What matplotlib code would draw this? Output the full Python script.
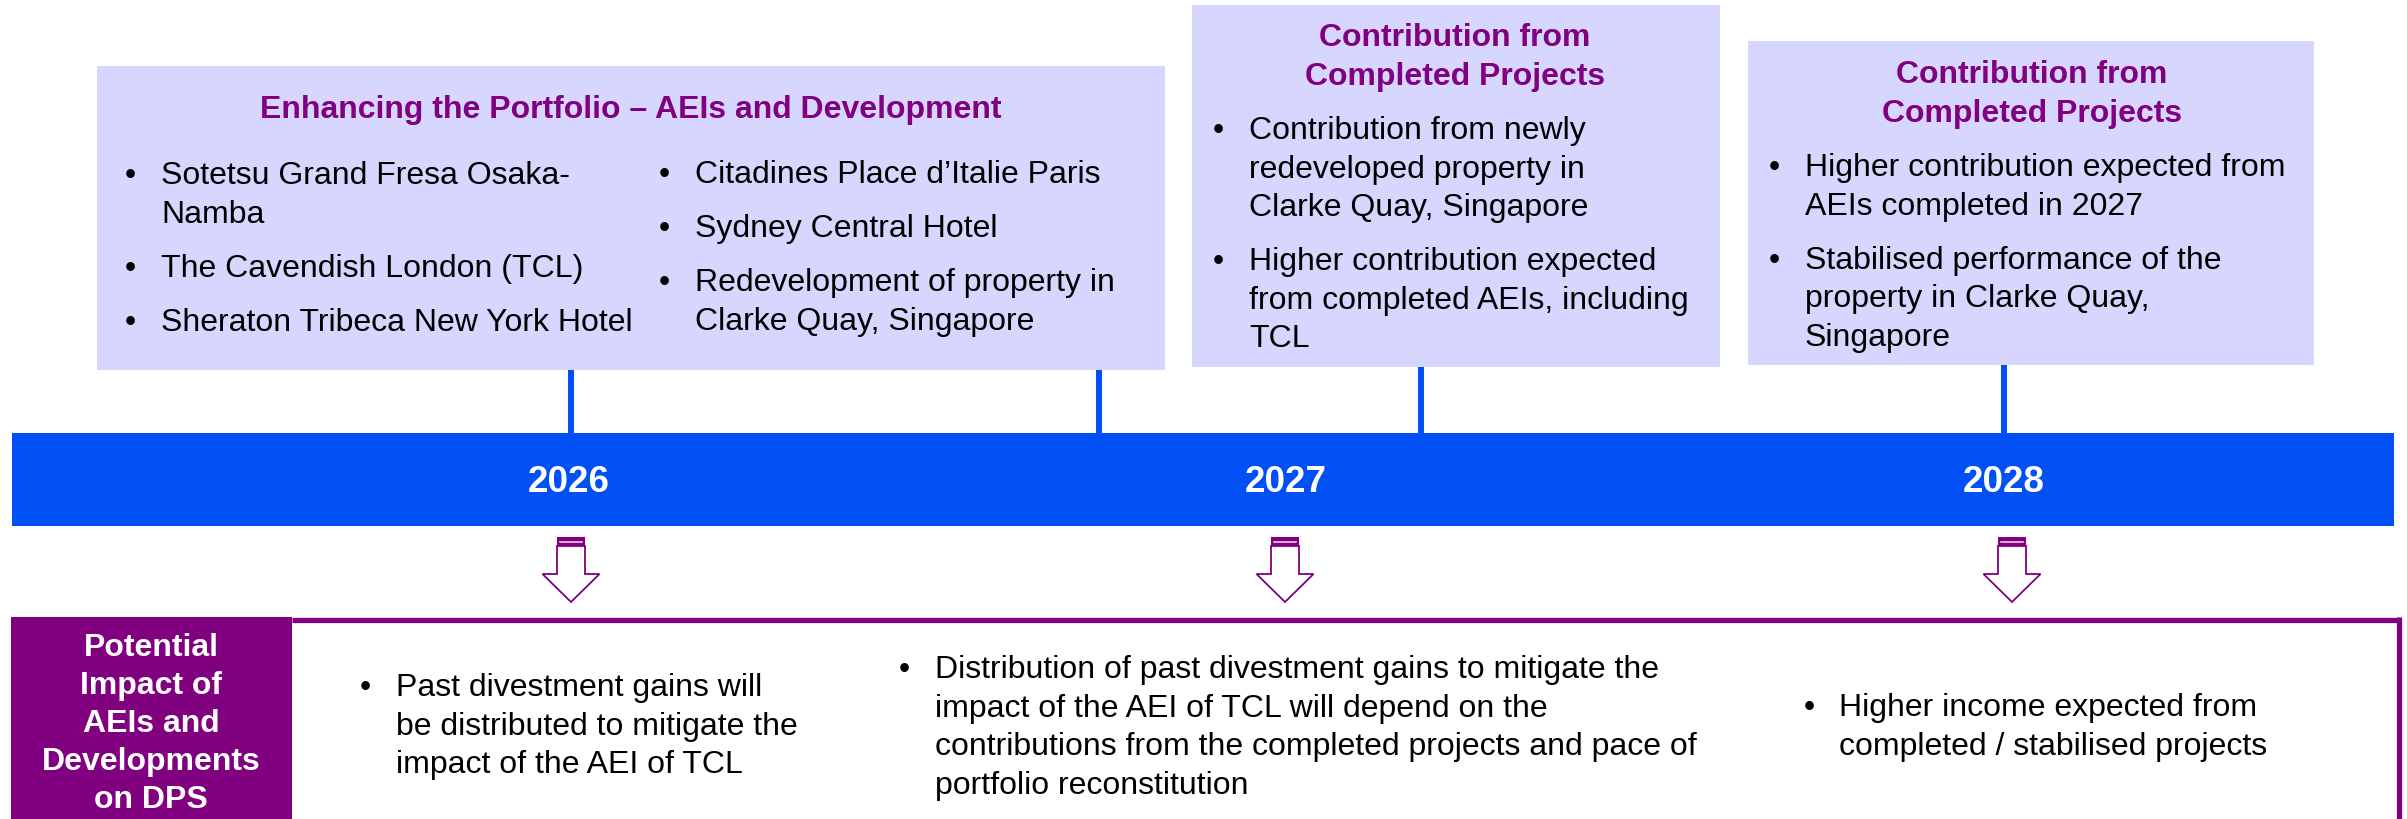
import matplotlib
matplotlib.use("Agg")
import matplotlib.pyplot as plt
from matplotlib.patches import Rectangle, Polygon

plt.rcParams['font.family'] = ['Liberation Sans', 'DejaVu Sans']

# texts
box1_title = ["Enhancing the Portfolio – AEIs and Development"]
box1_col1 = [["Sotetsu Grand Fresa Osaka-", "Namba"],
             ["The Cavendish London (TCL)"],
             ["Sheraton Tribeca New York Hotel"]]
box1_col2 = [["Citadines Place d’Italie Paris"],
             ["Sydney Central Hotel"],
             ["Redevelopment of property in", "Clarke Quay, Singapore"]]
box2_title = ["Contribution from", "Completed Projects"]
box2_items = [["Contribution from newly", "redeveloped property in", "Clarke Quay, Singapore"],
              ["Higher contribution expected", "from completed AEIs, including", "TCL"]]
box3_title = ["Contribution from", "Completed Projects"]
box3_items = [["Higher contribution expected from", "AEIs completed in 2027"],
              ["Stabilised performance of the", "property in Clarke Quay,", "Singapore"]]
years = ["2026", "2027", "2028"]
impact_label = ["Potential", "Impact of", "AEIs and", "Developments", "on DPS"]
impact_items = [[["Past divestment gains will", "be distributed to mitigate the",
                  "impact of the AEI of TCL"]],
                [["Distribution of past divestment gains to mitigate the",
                  "impact of the AEI of TCL will depend on the",
                  "contributions from the completed projects and pace of",
                  "portfolio reconstitution"]],
                [["Higher income expected from", "completed / stabilised projects"]]]

# colours / layout (pixel space, y down)
LAV = "#D6D6FF"
BLUE = "#0050F5"
PURPLE = "#800080"
W, H = 2407, 819
FS = 23
STEP = 38.5
PARA = 54
CAP = 11.4  # half cap height, px

fig = plt.figure(figsize=(W / 100, H / 100), dpi=100)
ax = fig.add_axes([0, 0, 1, 1])
ax.set_xlim(0, W)
ax.set_ylim(H, 0)
ax.axis("off")


def bullets(items, xb, xt, y0, step=STEP, para=PARA):
    y = y0
    for item in items:
        ax.text(xb, y + CAP, "•", fontsize=FS, ha="center", va="baseline", color="black")
        for k, line in enumerate(item):
            ax.text(xt, y + CAP, line, fontsize=FS, ha="left", va="baseline", color="black")
            if k < len(item) - 1:
                y += step
        y += para


def title(lines, xc, y0, color=PURPLE, step=STEP, fs=FS):
    for k, line in enumerate(lines):
        ax.text(xc, y0 + k * step + CAP, line, fontsize=fs, fontweight="bold",
                ha="center", va="baseline", color=color)


# top boxes
for (x0, x1, y0, y1) in [(97, 1165, 66, 370), (1192, 1720, 5, 367), (1748, 2314, 41, 365)]:
    ax.add_patch(Rectangle((x0, y0), x1 - x0, y1 - y0, facecolor=LAV, edgecolor="none"))

# connectors
for xc, ytop in [(571, 370), (1099, 370), (1421, 367), (2004, 365)]:
    ax.plot([xc, xc], [ytop, 433], color=BLUE, lw=4.3, solid_capstyle="butt")

title(box1_title, 631, 107)
bullets(box1_col1, 130, 161, 173)
bullets(box1_col2, 664, 695, 172)
title(box2_title, 1455, 35)
bullets(box2_items, 1218, 1249, 128)
title(box3_title, 2032, 72)
bullets(box3_items, 1774, 1805, 165)

# timeline bar
ax.add_patch(Rectangle((12, 433), 2394 - 12, 526 - 433, facecolor=BLUE, edgecolor="none"))
for yr, xc in zip(years, [569, 1286, 2004]):
    ax.text(xc, 479 + 13, yr, fontsize=26.5, fontweight="bold", color="white",
            ha="center", va="baseline")

# arrows
for xc in [571, 1285, 2012]:
    ax.add_patch(Rectangle((xc - 14, 537), 28, 9, facecolor=PURPLE, edgecolor="none"))
    ax.plot([xc - 11, xc + 11], [541.5, 541.5], color="#E8C8E8", lw=1.2)
    pts = [(xc - 14, 546), (xc + 14, 546), (xc + 14, 574), (xc + 28.5, 574),
           (xc, 602), (xc - 28.5, 574), (xc - 14, 574)]
    ax.add_patch(Polygon(pts, closed=True, facecolor="white", edgecolor=PURPLE, lw=1.3))

# bottom panel
ax.add_patch(Rectangle((11, 617), 292 - 11, H - 617 + 5, facecolor=PURPLE, edgecolor="none"))
ax.plot([292, 2398.5], [619.5, 619.5], color=PURPLE, lw=3.8, solid_capstyle="butt")
ax.plot([2398.5, 2398.5], [617, H + 5], color=PURPLE, lw=3.8, solid_capstyle="butt")
for k, line in enumerate(impact_label):
    ax.text(151, 645 + k * 38 + CAP, line, fontsize=FS, fontweight="bold", color="white",
            ha="center", va="baseline")

for items, (xb, xt, y0) in zip(impact_items, [(365, 396, 685), (904, 935, 667), (1809, 1839, 705)]):
    bullets(items, xb, xt, y0)

fig.savefig("out.png", dpi=100)
